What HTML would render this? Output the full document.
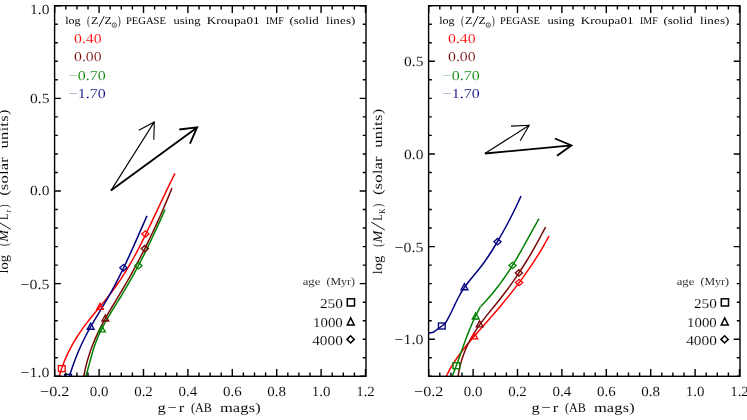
<!DOCTYPE html>
<html><head><meta charset="utf-8"><title>M/L vs g-r</title>
<style>html,body{margin:0;padding:0;background:#fff;}body{width:747px;height:420px;overflow:hidden;}svg{display:block;font-family:"Liberation Serif",serif;will-change:transform;}text{font-family:"Liberation Serif",serif;text-rendering:geometricPrecision;}</style></head><body>
<svg width="747" height="420" viewBox="0 0 747 420">
<rect x="0" y="0" width="747" height="420" fill="#ffffff"/>
<defs><clipPath id="cl"><rect x="54.6" y="5.7" width="311.4" height="370.6"/></clipPath>
<clipPath id="cr"><rect x="428.6" y="5.7" width="311.4" height="370.6"/></clipPath></defs>
<g clip-path="url(#cl)" fill="none">
<path d="M175 173.3C174.59 174.13 173.36 176.6 172.54 178.25C171.72 179.9 170.92 181.56 170.11 183.21C169.31 184.86 168.51 186.51 167.71 188.16C166.91 189.81 166.12 191.46 165.33 193.11C164.54 194.77 163.75 196.42 162.97 198.07C162.18 199.72 161.4 201.37 160.62 203.02C159.83 204.67 159.05 206.32 158.27 207.98C157.49 209.63 156.71 211.28 155.93 212.93C155.15 214.58 154.37 216.23 153.59 217.88C152.81 219.53 152.02 221.19 151.24 222.84C150.45 224.49 149.66 226.14 148.87 227.79C148.08 229.44 147.29 231.09 146.49 232.74C145.68 234.4 144.88 236.05 144.07 237.7C143.26 239.35 142.44 241 141.61 242.65C140.78 244.3 139.94 245.95 139.09 247.6C138.23 249.26 137.37 250.91 136.49 252.56C135.61 254.21 134.72 255.86 133.81 257.51C132.91 259.16 131.98 260.81 131.04 262.47C130.09 264.12 129.13 265.77 128.15 267.42C127.16 269.07 126.16 270.72 125.13 272.37C124.1 274.02 123.05 275.68 121.97 277.33C120.89 278.98 119.79 280.63 118.66 282.28C117.52 283.93 116.37 285.58 115.18 287.23C113.99 288.89 112.77 290.54 111.52 292.19C110.26 293.84 108.97 295.49 107.67 297.14C106.36 298.79 105.02 300.44 103.68 302.1C102.33 303.75 100.97 305.4 99.61 307.05C98.25 308.7 96.88 310.35 95.53 312C94.18 313.65 92.83 315.3 91.5 316.96C90.18 318.61 88.87 320.26 87.6 321.91C86.32 323.56 85.07 325.21 83.87 326.86C82.67 328.51 81.51 330.17 80.38 331.82C79.26 333.47 78.17 335.12 77.12 336.77C76.08 338.42 75.07 340.07 74.1 341.72C73.13 343.38 72.2 345.03 71.3 346.68C70.41 348.33 69.55 349.98 68.73 351.63C67.91 353.28 67.13 354.93 66.38 356.59C65.64 358.24 64.93 359.89 64.26 361.54C63.59 363.19 62.95 364.84 62.35 366.49C61.75 368.14 61.18 369.8 60.66 371.45C60.13 373.1 59.53 375.22 59.17 376.4C58.82 377.58 58.64 378.15 58.54 378.5" stroke="#ff0000" stroke-width="1.5" stroke-linejoin="round"/>
<path d="M171.97 188C171.64 188.82 170.64 191.3 169.97 192.95C169.3 194.6 168.62 196.25 167.94 197.89C167.25 199.54 166.56 201.19 165.87 202.84C165.17 204.49 164.47 206.14 163.76 207.79C163.05 209.44 162.34 211.09 161.61 212.74C160.89 214.39 160.16 216.04 159.43 217.68C158.69 219.33 157.95 220.98 157.2 222.63C156.45 224.28 155.69 225.93 154.93 227.58C154.16 229.23 153.39 230.88 152.61 232.53C151.84 234.18 151.05 235.82 150.26 237.47C149.46 239.12 148.66 240.77 147.85 242.42C147.04 244.07 146.23 245.72 145.4 247.37C144.58 249.02 143.74 250.67 142.9 252.32C142.06 253.96 141.21 255.61 140.36 257.26C139.5 258.91 138.63 260.56 137.76 262.21C136.89 263.86 136 265.51 135.11 267.16C134.22 268.81 133.32 270.46 132.41 272.11C131.5 273.75 130.59 275.4 129.66 277.05C128.73 278.7 127.8 280.35 126.85 282C125.91 283.65 124.95 285.3 123.99 286.95C123.02 288.6 122.05 290.25 121.07 291.89C120.09 293.54 119.09 295.19 118.1 296.84C117.11 298.49 116.11 300.14 115.12 301.79C114.13 303.44 113.14 305.09 112.15 306.74C111.17 308.39 110.19 310.04 109.23 311.68C108.26 313.33 107.31 314.98 106.37 316.63C105.44 318.28 104.52 319.93 103.62 321.58C102.73 323.23 101.85 324.88 101 326.53C100.15 328.18 99.33 329.82 98.54 331.47C97.74 333.12 96.98 334.77 96.24 336.42C95.51 338.07 94.8 339.72 94.11 341.37C93.43 343.02 92.78 344.67 92.15 346.32C91.53 347.96 90.93 349.61 90.36 351.26C89.78 352.91 89.24 354.56 88.72 356.21C88.21 357.86 87.72 359.51 87.25 361.16C86.79 362.81 86.35 364.46 85.94 366.11C85.53 367.75 85.15 369.4 84.79 371.05C84.44 372.7 84.05 374.76 83.8 376C83.55 377.24 83.38 378.08 83.29 378.5" stroke="#780808" stroke-width="1.5" stroke-linejoin="round"/>
<path d="M165.04 209.5C164.68 210.34 163.6 212.86 162.86 214.55C162.12 216.23 161.36 217.91 160.6 219.59C159.84 221.27 159.06 222.95 158.29 224.64C157.52 226.32 156.75 228 155.97 229.68C155.2 231.36 154.42 233.05 153.64 234.73C152.86 236.41 152.08 238.09 151.28 239.77C150.49 241.45 149.69 243.14 148.88 244.82C148.07 246.5 147.25 248.18 146.42 249.86C145.6 251.55 144.76 253.23 143.91 254.91C143.07 256.59 142.21 258.27 141.34 259.95C140.48 261.64 139.6 263.32 138.72 265C137.83 266.68 136.94 268.36 136.03 270.05C135.12 271.73 134.21 273.41 133.28 275.09C132.35 276.77 131.41 278.45 130.46 280.14C129.51 281.82 128.55 283.5 127.58 285.18C126.6 286.86 125.62 288.55 124.62 290.23C123.63 291.91 122.62 293.59 121.6 295.27C120.58 296.95 119.54 298.64 118.5 300.32C117.47 302 116.42 303.68 115.38 305.36C114.34 307.05 113.29 308.73 112.26 310.41C111.23 312.09 110.21 313.77 109.2 315.45C108.2 317.14 107.21 318.82 106.25 320.5C105.29 322.18 104.35 323.86 103.45 325.55C102.55 327.23 101.68 328.91 100.85 330.59C100.02 332.27 99.23 333.95 98.49 335.64C97.75 337.32 97.07 339 96.42 340.68C95.77 342.36 95.18 344.05 94.6 345.73C94.03 347.41 93.51 349.09 92.99 350.77C92.48 352.45 92 354.14 91.52 355.82C91.05 357.5 90.6 359.18 90.14 360.86C89.68 362.55 89.24 364.23 88.78 365.91C88.32 367.59 87.87 369.27 87.39 370.95C86.91 372.64 86.28 374.74 85.91 376C85.54 377.26 85.31 378.08 85.18 378.5" stroke="#008000" stroke-width="1.5" stroke-linejoin="round"/>
<path d="M146.99 215.9C146.62 216.73 145.51 219.24 144.78 220.9C144.04 222.57 143.3 224.24 142.57 225.91C141.84 227.57 141.11 229.24 140.37 230.91C139.64 232.58 138.91 234.24 138.18 235.91C137.44 237.58 136.71 239.25 135.97 240.92C135.24 242.58 134.5 244.25 133.75 245.92C133.01 247.59 132.26 249.25 131.51 250.92C130.76 252.59 130 254.26 129.24 255.93C128.47 257.59 127.7 259.26 126.92 260.93C126.14 262.6 125.36 264.26 124.56 265.93C123.77 267.6 122.96 269.27 122.15 270.93C121.33 272.6 120.51 274.27 119.67 275.94C118.83 277.61 117.98 279.27 117.12 280.94C116.26 282.61 115.38 284.28 114.49 285.94C113.6 287.61 112.7 289.28 111.78 290.95C110.86 292.61 109.93 294.28 108.97 295.95C108.02 297.62 107.05 299.29 106.07 300.95C105.09 302.62 104.09 304.29 103.09 305.96C102.09 307.62 101.08 309.29 100.07 310.96C99.06 312.63 98.05 314.29 97.05 315.96C96.05 317.63 95.05 319.3 94.06 320.97C93.08 322.63 92.1 324.3 91.14 325.97C90.19 327.64 89.25 329.3 88.33 330.97C87.42 332.64 86.52 334.31 85.66 335.98C84.8 337.64 83.97 339.31 83.16 340.98C82.35 342.65 81.57 344.31 80.81 345.98C80.05 347.65 79.32 349.32 78.61 350.98C77.9 352.65 77.21 354.32 76.55 355.99C75.88 357.66 75.24 359.32 74.61 360.99C73.99 362.66 73.38 364.33 72.79 365.99C72.21 367.66 71.64 369.33 71.08 371C70.53 372.66 69.87 374.75 69.46 376C69.06 377.25 68.78 378.08 68.65 378.5" stroke="#000080" stroke-width="1.5" stroke-linejoin="round"/>
<rect x="58.44" y="365.6" width="6.72" height="6" fill="none" stroke="#ff0000" stroke-width="1.35"/>
<rect x="64.74" y="374.4" width="6.72" height="6" fill="none" stroke="#000080" stroke-width="1.4"/>
<path d="M96.74 309.3 L100.1 303.3 L103.46 309.3 Z" fill="none" stroke="#ff0000" stroke-width="1.35" stroke-linejoin="miter"/>
<path d="M101.94 321 L105.3 315 L108.66 321 Z" fill="none" stroke="#780808" stroke-width="1.35" stroke-linejoin="miter"/>
<path d="M87.34 329.2 L90.7 323.2 L94.06 329.2 Z" fill="none" stroke="#000080" stroke-width="1.35" stroke-linejoin="miter"/>
<path d="M98.54 331.8 L101.9 325.8 L105.26 331.8 Z" fill="none" stroke="#008000" stroke-width="1.35" stroke-linejoin="miter"/>
<path d="M141.82 234 L145.4 230.8 L148.98 234 L145.4 237.2 Z" fill="none" stroke="#ff0000" stroke-width="1.35"/>
<path d="M141.32 248.6 L144.9 245.4 L148.48 248.6 L144.9 251.8 Z" fill="none" stroke="#780808" stroke-width="1.35"/>
<path d="M134.82 265.7 L138.4 262.5 L141.98 265.7 L138.4 268.9 Z" fill="none" stroke="#008000" stroke-width="1.35"/>
<path d="M119.82 267.8 L123.4 264.6 L126.98 267.8 L123.4 271 Z" fill="none" stroke="#000080" stroke-width="1.35"/>
</g>
<path d="M110.9 190.6 L154.3 121.9 M138.8 130.2 L154.3 121.9 L153.8 139.8" fill="none" stroke="#000000" stroke-width="1.1" stroke-linecap="butt" stroke-linejoin="miter"/>
<path d="M110.9 190.6 L197.1 127.4 M179.3 129.5 L197.1 127.4 L190 143.6" fill="none" stroke="#000000" stroke-width="1.85" stroke-linecap="butt" stroke-linejoin="miter"/>
<g clip-path="url(#cr)" fill="none">
<path d="M548.99 236C548.53 236.84 547.2 239.34 546.27 241.01C545.34 242.68 544.39 244.35 543.42 246.02C542.46 247.69 541.47 249.36 540.46 251.03C539.45 252.7 538.42 254.37 537.37 256.04C536.32 257.71 535.25 259.38 534.17 261.05C533.08 262.72 531.97 264.39 530.84 266.06C529.72 267.73 528.57 269.4 527.41 271.07C526.25 272.75 525.07 274.42 523.87 276.09C522.67 277.76 521.45 279.43 520.21 281.1C518.98 282.77 517.72 284.44 516.45 286.11C515.18 287.78 513.89 289.45 512.59 291.12C511.28 292.79 509.96 294.46 508.62 296.13C507.28 297.8 505.92 299.47 504.55 301.14C503.18 302.81 501.79 304.48 500.39 306.15C498.98 307.82 497.56 309.49 496.13 311.16C494.69 312.83 493.24 314.5 491.78 316.17C490.32 317.84 488.85 319.51 487.37 321.18C485.9 322.85 484.42 324.52 482.95 326.19C481.48 327.86 480.01 329.53 478.55 331.2C477.09 332.87 475.64 334.54 474.21 336.21C472.78 337.88 471.36 339.55 469.97 341.23C468.57 342.9 467.2 344.57 465.86 346.24C464.52 347.91 463.21 349.58 461.93 351.25C460.66 352.92 459.41 354.59 458.22 356.26C457.02 357.93 455.86 359.6 454.76 361.27C453.66 362.94 452.6 364.61 451.6 366.28C450.6 367.95 449.65 369.62 448.76 371.29C447.88 372.96 446.89 375.1 446.3 376.3C445.71 377.5 445.39 378.13 445.2 378.5" stroke="#ff0000" stroke-width="1.5" stroke-linejoin="round"/>
<path d="M545.56 227C545.13 227.83 543.85 230.31 542.98 231.97C542.12 233.62 541.24 235.28 540.35 236.93C539.46 238.59 538.56 240.24 537.65 241.9C536.73 243.56 535.81 245.21 534.87 246.87C533.94 248.52 532.99 250.18 532.02 251.83C531.06 253.49 530.08 255.14 529.09 256.8C528.1 258.46 527.1 260.11 526.07 261.77C525.05 263.42 524.01 265.08 522.96 266.73C521.91 268.39 520.84 270.04 519.75 271.7C518.66 273.36 517.56 275.01 516.43 276.67C515.31 278.32 514.17 279.98 513.01 281.63C511.85 283.29 510.67 284.94 509.47 286.6C508.27 288.26 507.05 289.91 505.81 291.57C504.57 293.22 503.3 294.88 502.02 296.53C500.73 298.19 499.43 299.84 498.1 301.5C496.77 303.16 495.42 304.81 494.06 306.47C492.71 308.12 491.34 309.78 490 311.43C488.65 313.09 487.3 314.74 485.99 316.4C484.68 318.06 483.37 319.71 482.13 321.37C480.88 323.02 479.67 324.68 478.52 326.33C477.36 327.99 476.26 329.64 475.2 331.3C474.15 332.96 473.14 334.61 472.18 336.27C471.23 337.92 470.32 339.58 469.46 341.23C468.6 342.89 467.78 344.54 467.02 346.2C466.25 347.86 465.53 349.51 464.86 351.17C464.19 352.82 463.56 354.48 462.98 356.13C462.4 357.79 461.87 359.44 461.38 361.1C460.89 362.76 460.45 364.41 460.05 366.07C459.65 367.72 459.29 369.38 458.98 371.03C458.66 372.69 458.37 374.76 458.17 376C457.96 377.24 457.82 378.08 457.75 378.5" stroke="#780808" stroke-width="1.5" stroke-linejoin="round"/>
<path d="M480.44 306.6C480 307.43 478.63 309.9 477.78 311.56C476.92 313.21 476.1 314.86 475.31 316.51C474.51 318.17 473.75 319.82 473.01 321.47C472.27 323.12 471.55 324.78 470.86 326.43C470.16 328.08 469.49 329.73 468.83 331.39C468.17 333.04 467.53 334.69 466.9 336.34C466.27 338 465.66 339.65 465.05 341.3C464.44 342.95 463.85 344.6 463.25 346.26C462.66 347.91 462.08 349.56 461.49 351.21C460.9 352.87 460.32 354.52 459.73 356.17C459.14 357.82 458.56 359.48 457.96 361.13C457.36 362.78 456.76 364.43 456.15 366.09C455.53 367.74 454.91 369.39 454.27 371.04C453.63 372.7 452.8 374.76 452.31 376C451.82 377.24 451.49 378.08 451.33 378.5" stroke="#008000" stroke-width="1.5" stroke-linejoin="round"/>
<path d="M539.04 218.7C538.57 219.51 537.16 221.96 536.24 223.58C535.32 225.21 534.41 226.84 533.5 228.47C532.6 230.09 531.7 231.72 530.8 233.35C529.9 234.98 529.01 236.61 528.11 238.23C527.22 239.86 526.32 241.49 525.42 243.12C524.52 244.74 523.62 246.37 522.7 248C521.79 249.63 520.87 251.26 519.94 252.88C519.01 254.51 518.07 256.14 517.11 257.77C516.15 259.39 515.18 261.02 514.19 262.65C513.2 264.28 512.2 265.91 511.17 267.53C510.13 269.16 509.09 270.79 508.01 272.42C506.93 274.04 505.84 275.67 504.71 277.3C503.58 278.93 502.42 280.56 501.23 282.18C500.04 283.81 498.82 285.44 497.57 287.07C496.31 288.69 495.02 290.32 493.69 291.95C492.36 293.58 491 295.21 489.58 296.83C488.17 298.46 486.72 300.09 485.23 301.72C483.73 303.34 481.37 305.79 480.59 306.6" stroke="#008000" stroke-width="1.5" stroke-linejoin="round"/>
<path d="M521 196C520.63 196.83 519.52 199.33 518.76 201C518 202.67 517.22 204.33 516.43 206C515.64 207.67 514.83 209.33 514.01 211C513.19 212.67 512.36 214.33 511.51 216C510.66 217.67 509.8 219.33 508.92 221C508.05 222.67 507.16 224.33 506.26 226C505.36 227.67 504.44 229.33 503.52 231C502.59 232.67 501.65 234.33 500.7 236C499.75 237.67 498.78 239.33 497.81 241C496.83 242.67 495.85 244.33 494.84 246C493.83 247.67 492.81 249.33 491.76 251C490.71 252.67 489.64 254.33 488.53 256C487.41 257.67 486.28 259.33 485.09 261C483.91 262.67 482.69 264.33 481.42 266C480.15 267.67 478.82 269.33 477.47 271C476.13 272.67 474.71 274.33 473.34 276C471.97 277.67 470.57 279.33 469.25 281C467.94 282.67 466.63 284.33 465.44 286C464.24 287.67 463.13 289.33 462.09 291C461.05 292.67 460.11 294.33 459.2 296C458.29 297.67 457.45 299.33 456.62 301C455.79 302.67 455.02 304.33 454.22 306C453.43 307.67 452.66 309.33 451.86 311C451.05 312.67 450.24 314.33 449.37 316C448.49 317.67 447.06 320.17 446.6 321L445.3 323.3L441.8 326L433.2 332.3L428.4 333.3L425 333.6" stroke="#000080" stroke-width="1.5" stroke-linejoin="round"/>
<rect x="438.44" y="323" width="6.72" height="6" fill="none" stroke="#000080" stroke-width="1.35"/>
<rect x="453.04" y="362.7" width="6.72" height="6" fill="none" stroke="#008000" stroke-width="1.35"/>
<path d="M461.14 289.7 L464.5 283.7 L467.86 289.7 Z" fill="none" stroke="#000080" stroke-width="1.35" stroke-linejoin="miter"/>
<path d="M472.34 319 L475.7 313 L479.06 319 Z" fill="none" stroke="#008000" stroke-width="1.35" stroke-linejoin="miter"/>
<path d="M476.24 326.9 L479.6 320.9 L482.96 326.9 Z" fill="none" stroke="#780808" stroke-width="1.35" stroke-linejoin="miter"/>
<path d="M470.94 338.9 L474.3 332.9 L477.66 338.9 Z" fill="none" stroke="#ff0000" stroke-width="1.35" stroke-linejoin="miter"/>
<path d="M493.92 241.7 L497.5 238.5 L501.08 241.7 L497.5 244.9 Z" fill="none" stroke="#000080" stroke-width="1.35"/>
<path d="M508.92 265.5 L512.5 262.3 L516.08 265.5 L512.5 268.7 Z" fill="none" stroke="#008000" stroke-width="1.35"/>
<path d="M515.32 272.9 L518.9 269.7 L522.48 272.9 L518.9 276.1 Z" fill="none" stroke="#780808" stroke-width="1.35"/>
<path d="M515.52 282.5 L519.1 279.3 L522.68 282.5 L519.1 285.7 Z" fill="none" stroke="#ff0000" stroke-width="1.35"/>
</g>
<path d="M484.9 153.5 L529.2 125.3 M511 126.1 L529.2 125.3 L520.2 140.7" fill="none" stroke="#000000" stroke-width="1.1" stroke-linecap="butt" stroke-linejoin="miter"/>
<path d="M484.9 153.5 L571.4 145.4 M554.9 138.5 L571.4 145.4 L557 155.7" fill="none" stroke="#000000" stroke-width="1.85" stroke-linecap="butt" stroke-linejoin="miter"/>
<g>
<rect x="54.6" y="5.7" width="311.4" height="370.6" fill="none" stroke="#000000" stroke-width="1.4"/>
<path d="M54.7 376.3 v-7.4 M54.7 5.7 v7.4 M65.8 376.3 v-3.7 M65.8 5.7 v3.7 M76.9 376.3 v-3.7 M76.9 5.7 v3.7 M88 376.3 v-3.7 M88 5.7 v3.7 M99.1 376.3 v-7.4 M99.1 5.7 v7.4 M110.2 376.3 v-3.7 M110.2 5.7 v3.7 M121.3 376.3 v-3.7 M121.3 5.7 v3.7 M132.4 376.3 v-3.7 M132.4 5.7 v3.7 M143.5 376.3 v-7.4 M143.5 5.7 v7.4 M154.6 376.3 v-3.7 M154.6 5.7 v3.7 M165.7 376.3 v-3.7 M165.7 5.7 v3.7 M176.8 376.3 v-3.7 M176.8 5.7 v3.7 M187.9 376.3 v-7.4 M187.9 5.7 v7.4 M199 376.3 v-3.7 M199 5.7 v3.7 M210.1 376.3 v-3.7 M210.1 5.7 v3.7 M221.2 376.3 v-3.7 M221.2 5.7 v3.7 M232.3 376.3 v-7.4 M232.3 5.7 v7.4 M243.4 376.3 v-3.7 M243.4 5.7 v3.7 M254.5 376.3 v-3.7 M254.5 5.7 v3.7 M265.6 376.3 v-3.7 M265.6 5.7 v3.7 M276.7 376.3 v-7.4 M276.7 5.7 v7.4 M287.8 376.3 v-3.7 M287.8 5.7 v3.7 M298.9 376.3 v-3.7 M298.9 5.7 v3.7 M310 376.3 v-3.7 M310 5.7 v3.7 M321.1 376.3 v-7.4 M321.1 5.7 v7.4 M332.2 376.3 v-3.7 M332.2 5.7 v3.7 M343.3 376.3 v-3.7 M343.3 5.7 v3.7 M354.4 376.3 v-3.7 M354.4 5.7 v3.7 M365.5 376.3 v-7.4 M365.5 5.7 v7.4 M54.6 5.7 h6.3 M366 5.7 h-6.3 M54.6 24.23 h3.2 M366 24.23 h-3.2 M54.6 42.76 h3.2 M366 42.76 h-3.2 M54.6 61.29 h3.2 M366 61.29 h-3.2 M54.6 79.82 h3.2 M366 79.82 h-3.2 M54.6 98.35 h6.3 M366 98.35 h-6.3 M54.6 116.88 h3.2 M366 116.88 h-3.2 M54.6 135.41 h3.2 M366 135.41 h-3.2 M54.6 153.94 h3.2 M366 153.94 h-3.2 M54.6 172.47 h3.2 M366 172.47 h-3.2 M54.6 191 h6.3 M366 191 h-6.3 M54.6 209.53 h3.2 M366 209.53 h-3.2 M54.6 228.06 h3.2 M366 228.06 h-3.2 M54.6 246.59 h3.2 M366 246.59 h-3.2 M54.6 265.12 h3.2 M366 265.12 h-3.2 M54.6 283.65 h6.3 M366 283.65 h-6.3 M54.6 302.18 h3.2 M366 302.18 h-3.2 M54.6 320.71 h3.2 M366 320.71 h-3.2 M54.6 339.24 h3.2 M366 339.24 h-3.2 M54.6 357.77 h3.2 M366 357.77 h-3.2 M54.6 376.3 h6.3 M366 376.3 h-6.3 " stroke="#000000" stroke-width="1.4" fill="none"/>
<text transform="translate(54.7 395.6) scale(1.1577 1)" font-size="14" text-anchor="middle" fill="#000000" stroke="#fff" stroke-width="0.1">−0.2</text>
<text transform="translate(99.1 395.6) scale(1.0686 1)" font-size="14" text-anchor="middle" fill="#000000" stroke="#fff" stroke-width="0.1">0.0</text>
<text transform="translate(143.5 395.6) scale(1.0686 1)" font-size="14" text-anchor="middle" fill="#000000" stroke="#fff" stroke-width="0.1">0.2</text>
<text transform="translate(187.9 395.6) scale(1.0686 1)" font-size="14" text-anchor="middle" fill="#000000" stroke="#fff" stroke-width="0.1">0.4</text>
<text transform="translate(232.3 395.6) scale(1.0686 1)" font-size="14" text-anchor="middle" fill="#000000" stroke="#fff" stroke-width="0.1">0.6</text>
<text transform="translate(276.7 395.6) scale(1.0686 1)" font-size="14" text-anchor="middle" fill="#000000" stroke="#fff" stroke-width="0.1">0.8</text>
<text transform="translate(321.1 395.6) scale(1.0686 1)" font-size="14" text-anchor="middle" fill="#000000" stroke="#fff" stroke-width="0.1">1.0</text>
<text transform="translate(365.5 395.6) scale(1.0686 1)" font-size="14" text-anchor="middle" fill="#000000" stroke="#fff" stroke-width="0.1">1.2</text>
<text transform="translate(49.4 14) scale(1.1086 1)" font-size="14" text-anchor="end" fill="#000000" stroke="#fff" stroke-width="0.1">1.0</text>
<text transform="translate(49.4 103.1) scale(1.1086 1)" font-size="14" text-anchor="end" fill="#000000" stroke="#fff" stroke-width="0.1">0.5</text>
<text transform="translate(49.4 195.4) scale(1.1086 1)" font-size="14" text-anchor="end" fill="#000000" stroke="#fff" stroke-width="0.1">0.0</text>
<text transform="translate(49.4 288.9) scale(1.1340 1)" font-size="14" text-anchor="end" fill="#000000" stroke="#fff" stroke-width="0.1">−0.5</text>
<text transform="translate(49.4 376.9) scale(1.1340 1)" font-size="14" text-anchor="end" fill="#000000" stroke="#fff" stroke-width="0.1">−1.0</text>
<text transform="translate(157.6 411.8) scale(1.2500 1)" font-size="13.2" text-anchor="start" fill="#000000" stroke="#fff" stroke-width="0.04" textLength="21.28" lengthAdjust="spacing">g−r</text>
<text transform="translate(191 411.8) scale(0.9149 1)" font-size="13.2" text-anchor="start" fill="#000000" stroke="#fff" stroke-width="0.04">(AB</text>
<text transform="translate(219.9 411.8) scale(1.2500 1)" font-size="13.2" text-anchor="start" fill="#000000" stroke="#fff" stroke-width="0.04" textLength="32.72" lengthAdjust="spacing">mags)</text>
<g transform="translate(7.9 273.6) rotate(-90)">
<text transform="translate(0 0) scale(1.1003 1)" font-size="13.3" text-anchor="start" fill="#000000" stroke="#fff" stroke-width="0.04">log</text>
<text transform="translate(27.7 0) scale(0.6773 1)" font-size="13.3" text-anchor="start" fill="#000000" stroke="#fff" stroke-width="0.04">(</text>
<text transform="translate(31.5 0) scale(1.1011 1)" font-size="13.3" text-anchor="start" fill="#000000" stroke="#fff" stroke-width="0.04" font-style="italic">M</text>
<text transform="translate(53.8 0) scale(0.7262 1)" font-size="13.3" text-anchor="start" fill="#000000" stroke="#fff" stroke-width="0.04">L</text>
<text transform="translate(61 3.4) scale(0.9675 1)" font-size="9" text-anchor="start" fill="#000000" stroke="#fff" stroke-width="0.04">r</text>
<text transform="translate(65.8 0) scale(0.7224 1)" font-size="13.3" text-anchor="start" fill="#000000" stroke="#fff" stroke-width="0.04">)</text>
<text transform="translate(77.8 0) scale(1.2500 1)" font-size="13.3" text-anchor="start" fill="#000000" stroke="#fff" stroke-width="0.04" textLength="30.8" lengthAdjust="spacing">(solar</text>
<text transform="translate(125 0) scale(1.2500 1)" font-size="13.3" text-anchor="start" fill="#000000" stroke="#fff" stroke-width="0.04" textLength="31.28" lengthAdjust="spacing">units)</text>
<path d="M44.3 2.9 L52.2 -10.6" stroke="#000000" stroke-width="0.9" fill="none"/>
</g>
<text transform="translate(65.2 24) scale(1.1588 1)" font-size="10.4" text-anchor="start" fill="#000000" stroke="#fff" stroke-width="0">log</text>
<text transform="translate(86.9 25) scale(0.6946 1)" font-size="13.4" text-anchor="start" fill="#000000" stroke="#fff" stroke-width="0.1">(</text>
<text transform="translate(91.1 24) scale(1.1648 1)" font-size="10.4" text-anchor="start" fill="#000000" stroke="#fff" stroke-width="0">Z</text>
<text transform="translate(104.5 24) scale(1.1333 1)" font-size="10.4" text-anchor="start" fill="#000000" stroke="#fff" stroke-width="0">Z</text>
<text transform="translate(117.7 25) scale(0.6722 1)" font-size="13.4" text-anchor="start" fill="#000000" stroke="#fff" stroke-width="0.1">)</text>
<text transform="translate(125.9 24) scale(1.0205 1)" font-size="10.4" text-anchor="start" fill="#000000" stroke="#fff" stroke-width="0">PEGASE</text>
<text transform="translate(173.5 24) scale(1.2025 1)" font-size="10.4" text-anchor="start" fill="#000000" stroke="#fff" stroke-width="0">using</text>
<text transform="translate(206.8 24) scale(1.2500 1)" font-size="10.4" text-anchor="start" fill="#000000" stroke="#fff" stroke-width="0" textLength="42.24" lengthAdjust="spacing">Kroupa01</text>
<text transform="translate(266 24) scale(0.9570 1)" font-size="10.4" text-anchor="start" fill="#000000" stroke="#fff" stroke-width="0">IMF</text>
<text transform="translate(289.4 24) scale(1.2411 1)" font-size="10.4" text-anchor="start" fill="#000000" stroke="#fff" stroke-width="0">(solid</text>
<text transform="translate(325.9 24) scale(1.2500 1)" font-size="10.4" text-anchor="start" fill="#000000" stroke="#fff" stroke-width="0" textLength="23.6" lengthAdjust="spacing">lines)</text>
<path d="M99 26.6 L104.2 16.1" stroke="#000000" stroke-width="0.9" fill="none"/>
<circle cx="114.3" cy="25.1" r="2.2" fill="none" stroke="#000000" stroke-width="0.65"/>
<circle cx="114.3" cy="25.1" r="0.6" fill="#000000"/>
<text transform="translate(74 42.7) scale(1.1597 1)" font-size="13.6" text-anchor="start" fill="#ff0000" stroke="#fff" stroke-width="0.1">0.40</text>
<text transform="translate(74 61.2) scale(1.1597 1)" font-size="13.6" text-anchor="start" fill="#780808" stroke="#fff" stroke-width="0.1">0.00</text>
<text transform="translate(68.8 79.7) scale(1.1757 1)" font-size="13.6" text-anchor="start" fill="#008000" stroke="#fff" stroke-width="0.1">−0.70</text>
<text transform="translate(68.8 98.2) scale(1.1757 1)" font-size="13.6" text-anchor="start" fill="#000080" stroke="#fff" stroke-width="0.1">−1.70</text>
<text transform="translate(302.7 284.8) scale(1.1810 1)" font-size="10.8" text-anchor="start" fill="#000000" stroke="#fff" stroke-width="0.1">age</text>
<text transform="translate(326.5 284.8) scale(1.1049 1)" font-size="10.8" text-anchor="start" fill="#000000" stroke="#fff" stroke-width="0.1">(Myr)</text>
<text transform="translate(342.8 308) scale(1.1309 1)" font-size="13.5" text-anchor="end" fill="#000000" stroke="#fff" stroke-width="0.1">250</text>
<text transform="translate(342.8 326.6) scale(1.1000 1)" font-size="13.5" text-anchor="end" fill="#000000" stroke="#fff" stroke-width="0.1">1000</text>
<text transform="translate(342.8 345.1) scale(1.1333 1)" font-size="13.5" text-anchor="end" fill="#000000" stroke="#fff" stroke-width="0.1">4000</text>
<rect x="347.3" y="298.8" width="7.2" height="7.2" fill="none" stroke="#000000" stroke-width="1.5"/>
<path d="M347.2 325 L350.7 318 L354.2 325 Z" fill="none" stroke="#000000" stroke-width="1.5" stroke-linejoin="miter"/>
<path d="M347 339.4 L350.6 335.8 L354.2 339.4 L350.6 343 Z" fill="none" stroke="#000000" stroke-width="1.5"/>
</g>
<g>
<rect x="428.6" y="5.7" width="311.4" height="370.6" fill="none" stroke="#000000" stroke-width="1.4"/>
<path d="M428.7 376.3 v-7.4 M428.7 5.7 v7.4 M439.8 376.3 v-3.7 M439.8 5.7 v3.7 M450.9 376.3 v-3.7 M450.9 5.7 v3.7 M462 376.3 v-3.7 M462 5.7 v3.7 M473.1 376.3 v-7.4 M473.1 5.7 v7.4 M484.2 376.3 v-3.7 M484.2 5.7 v3.7 M495.3 376.3 v-3.7 M495.3 5.7 v3.7 M506.4 376.3 v-3.7 M506.4 5.7 v3.7 M517.5 376.3 v-7.4 M517.5 5.7 v7.4 M528.6 376.3 v-3.7 M528.6 5.7 v3.7 M539.7 376.3 v-3.7 M539.7 5.7 v3.7 M550.8 376.3 v-3.7 M550.8 5.7 v3.7 M561.9 376.3 v-7.4 M561.9 5.7 v7.4 M573 376.3 v-3.7 M573 5.7 v3.7 M584.1 376.3 v-3.7 M584.1 5.7 v3.7 M595.2 376.3 v-3.7 M595.2 5.7 v3.7 M606.3 376.3 v-7.4 M606.3 5.7 v7.4 M617.4 376.3 v-3.7 M617.4 5.7 v3.7 M628.5 376.3 v-3.7 M628.5 5.7 v3.7 M639.6 376.3 v-3.7 M639.6 5.7 v3.7 M650.7 376.3 v-7.4 M650.7 5.7 v7.4 M661.8 376.3 v-3.7 M661.8 5.7 v3.7 M672.9 376.3 v-3.7 M672.9 5.7 v3.7 M684 376.3 v-3.7 M684 5.7 v3.7 M695.1 376.3 v-7.4 M695.1 5.7 v7.4 M706.2 376.3 v-3.7 M706.2 5.7 v3.7 M717.3 376.3 v-3.7 M717.3 5.7 v3.7 M728.4 376.3 v-3.7 M728.4 5.7 v3.7 M739.5 376.3 v-7.4 M739.5 5.7 v7.4 M428.6 5.7 h3.2 M740 5.7 h-3.2 M428.6 24.23 h3.2 M740 24.23 h-3.2 M428.6 42.76 h3.2 M740 42.76 h-3.2 M428.6 61.29 h6.3 M740 61.29 h-6.3 M428.6 79.82 h3.2 M740 79.82 h-3.2 M428.6 98.35 h3.2 M740 98.35 h-3.2 M428.6 116.88 h3.2 M740 116.88 h-3.2 M428.6 135.41 h3.2 M740 135.41 h-3.2 M428.6 153.94 h6.3 M740 153.94 h-6.3 M428.6 172.47 h3.2 M740 172.47 h-3.2 M428.6 191 h3.2 M740 191 h-3.2 M428.6 209.53 h3.2 M740 209.53 h-3.2 M428.6 228.06 h3.2 M740 228.06 h-3.2 M428.6 246.59 h6.3 M740 246.59 h-6.3 M428.6 265.12 h3.2 M740 265.12 h-3.2 M428.6 283.65 h3.2 M740 283.65 h-3.2 M428.6 302.18 h3.2 M740 302.18 h-3.2 M428.6 320.71 h3.2 M740 320.71 h-3.2 M428.6 339.24 h6.3 M740 339.24 h-6.3 M428.6 357.77 h3.2 M740 357.77 h-3.2 M428.6 376.3 h3.2 M740 376.3 h-3.2 " stroke="#000000" stroke-width="1.4" fill="none"/>
<text transform="translate(428.7 395.6) scale(1.1577 1)" font-size="14" text-anchor="middle" fill="#000000" stroke="#fff" stroke-width="0.1">−0.2</text>
<text transform="translate(473.1 395.6) scale(1.0686 1)" font-size="14" text-anchor="middle" fill="#000000" stroke="#fff" stroke-width="0.1">0.0</text>
<text transform="translate(517.5 395.6) scale(1.0686 1)" font-size="14" text-anchor="middle" fill="#000000" stroke="#fff" stroke-width="0.1">0.2</text>
<text transform="translate(561.9 395.6) scale(1.0686 1)" font-size="14" text-anchor="middle" fill="#000000" stroke="#fff" stroke-width="0.1">0.4</text>
<text transform="translate(606.3 395.6) scale(1.0686 1)" font-size="14" text-anchor="middle" fill="#000000" stroke="#fff" stroke-width="0.1">0.6</text>
<text transform="translate(650.7 395.6) scale(1.0686 1)" font-size="14" text-anchor="middle" fill="#000000" stroke="#fff" stroke-width="0.1">0.8</text>
<text transform="translate(695.1 395.6) scale(1.0686 1)" font-size="14" text-anchor="middle" fill="#000000" stroke="#fff" stroke-width="0.1">1.0</text>
<text transform="translate(739.5 395.6) scale(1.0686 1)" font-size="14" text-anchor="middle" fill="#000000" stroke="#fff" stroke-width="0.1">1.2</text>
<text transform="translate(423.4 66) scale(1.1086 1)" font-size="14" text-anchor="end" fill="#000000" stroke="#fff" stroke-width="0.1">0.5</text>
<text transform="translate(423.4 158.7) scale(1.1086 1)" font-size="14" text-anchor="end" fill="#000000" stroke="#fff" stroke-width="0.1">0.0</text>
<text transform="translate(423.4 251.5) scale(1.1340 1)" font-size="14" text-anchor="end" fill="#000000" stroke="#fff" stroke-width="0.1">−0.5</text>
<text transform="translate(423.4 344.2) scale(1.1340 1)" font-size="14" text-anchor="end" fill="#000000" stroke="#fff" stroke-width="0.1">−1.0</text>
<text transform="translate(531.6 411.8) scale(1.2500 1)" font-size="13.2" text-anchor="start" fill="#000000" stroke="#fff" stroke-width="0.04" textLength="21.28" lengthAdjust="spacing">g−r</text>
<text transform="translate(565 411.8) scale(0.9149 1)" font-size="13.2" text-anchor="start" fill="#000000" stroke="#fff" stroke-width="0.04">(AB</text>
<text transform="translate(593.9 411.8) scale(1.2500 1)" font-size="13.2" text-anchor="start" fill="#000000" stroke="#fff" stroke-width="0.04" textLength="32.72" lengthAdjust="spacing">mags)</text>
<g transform="translate(381.9 274.35) rotate(-90)">
<text transform="translate(0 0) scale(1.1003 1)" font-size="13.3" text-anchor="start" fill="#000000" stroke="#fff" stroke-width="0.04">log</text>
<text transform="translate(27.7 0) scale(0.6773 1)" font-size="13.3" text-anchor="start" fill="#000000" stroke="#fff" stroke-width="0.04">(</text>
<text transform="translate(31.5 0) scale(1.1011 1)" font-size="13.3" text-anchor="start" fill="#000000" stroke="#fff" stroke-width="0.04" font-style="italic">M</text>
<text transform="translate(53.8 0) scale(0.7262 1)" font-size="13.3" text-anchor="start" fill="#000000" stroke="#fff" stroke-width="0.04">L</text>
<text transform="translate(60.6 3.4) scale(0.7847 1)" font-size="9" text-anchor="start" fill="#000000" stroke="#fff" stroke-width="0.04">K</text>
<text transform="translate(67.3 0) scale(0.7224 1)" font-size="13.3" text-anchor="start" fill="#000000" stroke="#fff" stroke-width="0.04">)</text>
<text transform="translate(79.3 0) scale(1.2500 1)" font-size="13.3" text-anchor="start" fill="#000000" stroke="#fff" stroke-width="0.04" textLength="30.8" lengthAdjust="spacing">(solar</text>
<text transform="translate(126.5 0) scale(1.2500 1)" font-size="13.3" text-anchor="start" fill="#000000" stroke="#fff" stroke-width="0.04" textLength="31.28" lengthAdjust="spacing">units)</text>
<path d="M44.3 2.9 L52.2 -10.6" stroke="#000000" stroke-width="0.9" fill="none"/>
</g>
<text transform="translate(439.2 24) scale(1.1588 1)" font-size="10.4" text-anchor="start" fill="#000000" stroke="#fff" stroke-width="0">log</text>
<text transform="translate(460.9 25) scale(0.6946 1)" font-size="13.4" text-anchor="start" fill="#000000" stroke="#fff" stroke-width="0.1">(</text>
<text transform="translate(465.1 24) scale(1.1648 1)" font-size="10.4" text-anchor="start" fill="#000000" stroke="#fff" stroke-width="0">Z</text>
<text transform="translate(478.5 24) scale(1.1333 1)" font-size="10.4" text-anchor="start" fill="#000000" stroke="#fff" stroke-width="0">Z</text>
<text transform="translate(491.7 25) scale(0.6722 1)" font-size="13.4" text-anchor="start" fill="#000000" stroke="#fff" stroke-width="0.1">)</text>
<text transform="translate(499.9 24) scale(1.0205 1)" font-size="10.4" text-anchor="start" fill="#000000" stroke="#fff" stroke-width="0">PEGASE</text>
<text transform="translate(547.5 24) scale(1.2025 1)" font-size="10.4" text-anchor="start" fill="#000000" stroke="#fff" stroke-width="0">using</text>
<text transform="translate(580.8 24) scale(1.2500 1)" font-size="10.4" text-anchor="start" fill="#000000" stroke="#fff" stroke-width="0" textLength="42.24" lengthAdjust="spacing">Kroupa01</text>
<text transform="translate(640 24) scale(0.9570 1)" font-size="10.4" text-anchor="start" fill="#000000" stroke="#fff" stroke-width="0">IMF</text>
<text transform="translate(663.4 24) scale(1.2411 1)" font-size="10.4" text-anchor="start" fill="#000000" stroke="#fff" stroke-width="0">(solid</text>
<text transform="translate(699.9 24) scale(1.2500 1)" font-size="10.4" text-anchor="start" fill="#000000" stroke="#fff" stroke-width="0" textLength="23.6" lengthAdjust="spacing">lines)</text>
<path d="M473 26.6 L478.2 16.1" stroke="#000000" stroke-width="0.9" fill="none"/>
<circle cx="488.3" cy="25.1" r="2.2" fill="none" stroke="#000000" stroke-width="0.65"/>
<circle cx="488.3" cy="25.1" r="0.6" fill="#000000"/>
<text transform="translate(448 42.7) scale(1.1597 1)" font-size="13.6" text-anchor="start" fill="#ff0000" stroke="#fff" stroke-width="0.1">0.40</text>
<text transform="translate(448 61.2) scale(1.1597 1)" font-size="13.6" text-anchor="start" fill="#780808" stroke="#fff" stroke-width="0.1">0.00</text>
<text transform="translate(442.8 79.7) scale(1.1757 1)" font-size="13.6" text-anchor="start" fill="#008000" stroke="#fff" stroke-width="0.1">−0.70</text>
<text transform="translate(442.8 98.2) scale(1.1757 1)" font-size="13.6" text-anchor="start" fill="#000080" stroke="#fff" stroke-width="0.1">−1.70</text>
<text transform="translate(676.7 284.8) scale(1.1810 1)" font-size="10.8" text-anchor="start" fill="#000000" stroke="#fff" stroke-width="0.1">age</text>
<text transform="translate(700.5 284.8) scale(1.1049 1)" font-size="10.8" text-anchor="start" fill="#000000" stroke="#fff" stroke-width="0.1">(Myr)</text>
<text transform="translate(716.8 308) scale(1.1309 1)" font-size="13.5" text-anchor="end" fill="#000000" stroke="#fff" stroke-width="0.1">250</text>
<text transform="translate(716.8 326.6) scale(1.1000 1)" font-size="13.5" text-anchor="end" fill="#000000" stroke="#fff" stroke-width="0.1">1000</text>
<text transform="translate(716.8 345.1) scale(1.1333 1)" font-size="13.5" text-anchor="end" fill="#000000" stroke="#fff" stroke-width="0.1">4000</text>
<rect x="721.3" y="298.8" width="7.2" height="7.2" fill="none" stroke="#000000" stroke-width="1.5"/>
<path d="M721.2 325 L724.7 318 L728.2 325 Z" fill="none" stroke="#000000" stroke-width="1.5" stroke-linejoin="miter"/>
<path d="M721 339.4 L724.6 335.8 L728.2 339.4 L724.6 343 Z" fill="none" stroke="#000000" stroke-width="1.5"/>
</g>
</svg>
</body></html>
